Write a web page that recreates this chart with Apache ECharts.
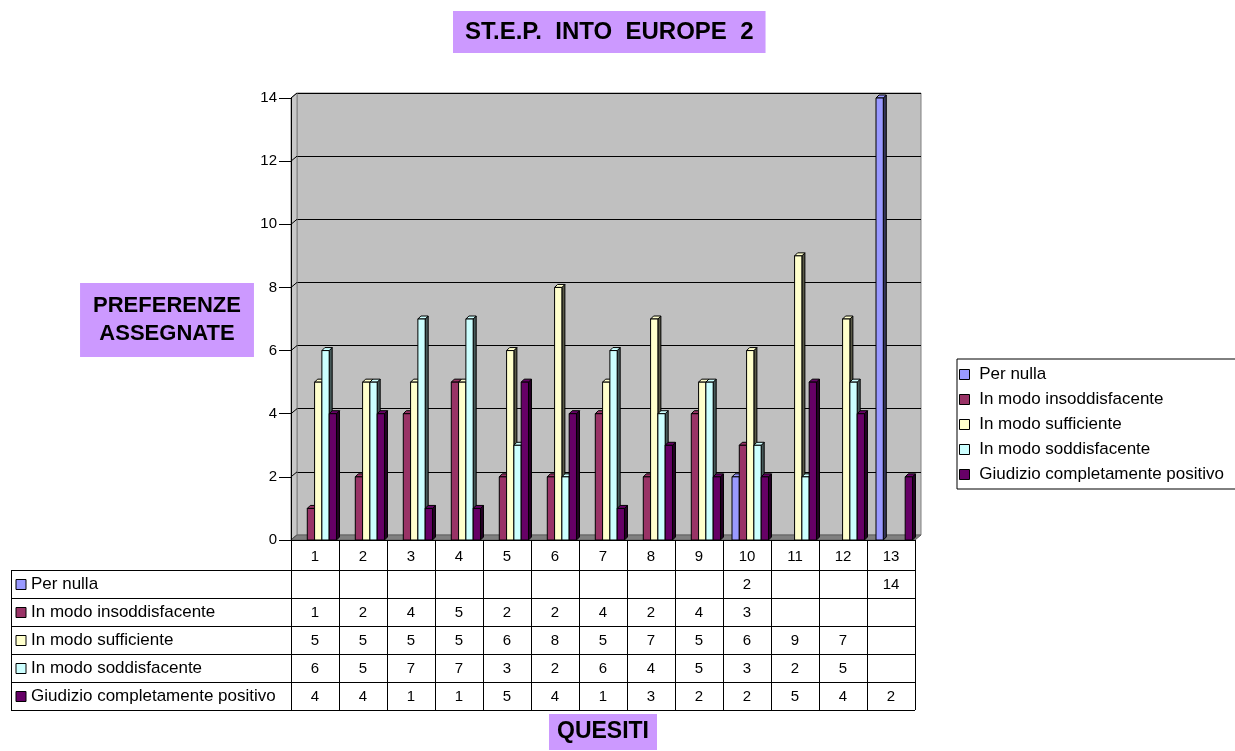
<!DOCTYPE html>
<html>
<head>
<meta charset="utf-8">
<title>ST.E.P. INTO EUROPE 2</title>
<script src="https://cdn.jsdelivr.net/npm/echarts/dist/echarts.min.js"></script>
<style>
  html, body { margin: 0; padding: 0; background: #fff; }
  #chart { width: 1235px; height: 751px; }
</style>
</head>
<body>
<div id="chart"></div>
<script>
(function() {

let quesiti = ['1', '2', '3', '4', '5', '6', '7', '8', '9', '10', '11', '12', '13']
let perNulla = [null, null, null, null, null, null, null, null, null, 2, null, null, 14]
let insoddisfacente = [1, 2, 4, 5, 2, 2, 4, 2, 4, 3, null, null, null]
let sufficiente = [5, 5, 5, 5, 6, 8, 5, 7, 5, 6, 9, 7, null]
let soddisfacente = [6, 5, 7, 7, 3, 2, 6, 4, 5, 3, 2, 5, null]
let positivo = [4, 4, 1, 1, 5, 4, 1, 3, 2, 2, 5, 4, 2]
let yTicks = [0, 2, 4, 6, 8, 10, 12, 14]

let serieNomi = ['Per nulla', 'In modo insoddisfacente', 'In modo sufficiente', 'In modo soddisfacente', 'Giudizio completamente positivo']
let serieValori = [perNulla, insoddisfacente, sufficiente, soddisfacente, positivo]
let colori = ['#9999FF', '#993366', '#FFFFCC', '#CCFFFF', '#660066']

const FONT = "'Liberation Sans', Arial, sans-serif"
const DEPTH = 3   // profondita 3D delle barre
const WALL = 6    // spostamento della parete di fondo

function shade(hex, f) {
    let n = parseInt(hex.slice(1), 16)
    let r = Math.round(((n >> 16) & 255) * f),
        g = Math.round(((n >> 8) & 255) * f),
        b = Math.round((n & 255) * f)
    return 'rgb(' + r + ',' + g + ',' + b + ')'
}

// barra "3D" stile Excel: fronte, lato e cima
function renderBar(s) {
    return function(params, api) {
        let ci = api.value(0), v = api.value(1)
        let w = api.size([1, 0])[0]
        let base = api.coord([ci, 0])
        let top = api.coord([ci, v])
        let bw = w * 0.152
        let x0 = base[0] - w / 2 + w * 0.1875 + s * bw
        let y0 = top[1], y1 = base[1]
        let c = colori[s]
        let line = { stroke: '#000', lineWidth: 1 }
        return {
            type: 'group',
            children: [
                {
                    type: 'polygon',
                    shape: { points: [[x0 + bw, y0], [x0 + bw + DEPTH, y0 - DEPTH], [x0 + bw + DEPTH, y1 - DEPTH], [x0 + bw, y1]] },
                    style: Object.assign({ fill: shade(c, 0.35) }, line)
                },
                {
                    type: 'polygon',
                    shape: { points: [[x0, y0], [x0 + DEPTH, y0 - DEPTH], [x0 + bw + DEPTH, y0 - DEPTH], [x0 + bw, y0]] },
                    style: Object.assign({ fill: c }, line)
                },
                {
                    type: 'rect',
                    shape: { x: x0, y: y0, width: bw, height: y1 - y0 },
                    style: Object.assign({ fill: c }, line)
                }
            ]
        }
    }
}

let series = serieNomi.map((nome, s) => {
    let data = []
    serieValori[s].forEach((v, i) => {
        if (v !== null) data.push([i, v])
    })
    return {
        name: nome,
        type: 'custom',
        xAxisIndex: 0,
        yAxisIndex: 0,
        itemStyle: { color: colori[s] },
        renderItem: renderBar(s),
        encode: { x: 0, y: 1 },
        data: data,
        z: 3
    }
})

let chart = echarts.init(document.getElementById('chart'))

let option = {
    animation: false,
    color: colori,
    textStyle: { fontFamily: FONT },
    title: {
        text: 'ST.E.P.  INTO  EUROPE  2',
        left: 453,
        top: 11,
        backgroundColor: '#CC99FF',
        padding: [9, 12, 9, 12],
        textStyle: { fontFamily: FONT, fontSize: 24, fontWeight: 'bold', color: '#000', lineHeight: 24 }
    },
    legend: {
        orient: 'vertical',
        left: 957,
        top: 359,
        padding: [7, 40, 6, 2],
        itemWidth: 10,
        itemHeight: 10,
        itemGap: 8,
        icon: 'rect',
        borderColor: '#000',
        borderWidth: 1,
        itemStyle: { borderColor: '#000', borderWidth: 1 },
        formatter: name => ' ' + name,
        textStyle: { fontFamily: FONT, fontSize: 17, color: '#000', lineHeight: 17, padding: 0 },
        data: serieNomi
    },
    grid: [
        // griglia frontale: barre e assi
        { left: 291, right: 320, top: 98, bottom: 211 },
        // parete di fondo grigia
        {
            left: 291 + WALL, right: 320 - WALL, top: 98 - 5, bottom: 211 + 5,
            show: true, backgroundColor: '#C0C0C0', borderColor: '#808080', borderWidth: 1, z: 0
        }
    ],
    xAxis: [
        {
            type: 'category', gridIndex: 0, data: quesiti,
            axisLine: { lineStyle: { color: '#000', width: 1 } },
            axisTick: { show: false },
            axisLabel: { fontFamily: FONT, fontSize: 15, color: '#000', margin: 9 },
            z: 4
        },
        { type: 'category', gridIndex: 1, data: quesiti, show: false }
    ],
    yAxis: [
        {
            type: 'value', gridIndex: 0, min: yTicks[0], max: yTicks[yTicks.length - 1], interval: 2,
            axisLine: { show: true, lineStyle: { color: '#000' } },
            axisTick: { show: true, length: 12, lineStyle: { color: '#000' } },
            axisLabel: { fontFamily: FONT, fontSize: 15, color: '#000', margin: 14 },
            splitLine: { show: false },
            z: 4
        },
        {
            type: 'value', gridIndex: 1, min: yTicks[0], max: yTicks[yTicks.length - 1], interval: 2,
            axisLine: { show: false }, axisTick: { show: false }, axisLabel: { show: false },
            splitLine: { show: true, lineStyle: { color: '#000', width: 1 } }
        }
    ],
    series: series
}

chart.setOption(option)

// elementi disegnati a mano: pavimento, parete laterale, tabella dati, etichette
function buildGraphic() {
    let g = []
    let colX = quesiti.map((q, i) => chart.convertToPixel({ xAxisIndex: 0 }, i))
    let catW = colX[1] - colX[0]
    let xl = colX[0] - catW / 2, xr = colX[colX.length - 1] + catW / 2
    let y0 = chart.convertToPixel({ yAxisIndex: 0 }, 0)
    let yTop = chart.convertToPixel({ yAxisIndex: 0 }, yTicks[yTicks.length - 1])

    // parete laterale sinistra
    g.push({
        type: 'polygon', z: 1,
        shape: { points: [[xl, yTop], [xl + WALL, yTop - 5], [xl + WALL, y0 - 5], [xl, y0]] },
        style: { fill: '#C8C8C8', stroke: '#808080', lineWidth: 1 }
    })
    yTicks.forEach(t => {
        let y = chart.convertToPixel({ yAxisIndex: 0 }, t)
        g.push({ type: 'line', z: 1, shape: { x1: xl, y1: y, x2: xl + WALL, y2: y - 5 }, style: { stroke: '#000', lineWidth: 1 } })
    })
    // pavimento
    g.push({
        type: 'polygon', z: 1,
        shape: { points: [[xl, y0], [xl + WALL, y0 - 5], [xr + WALL, y0 - 5], [xr, y0]] },
        style: { fill: '#808080', stroke: '#606060', lineWidth: 1 }
    })

    // tabella dati
    let rowH = 28
    let yRow0 = y0 + 30
    let xLab = 11
    let lc = '#000'
    let yEnd = yRow0 + rowH * serieNomi.length
    for (let k = 0; k <= quesiti.length; k++) {
        let x = Math.round(xl + k * catW) + 0.5
        g.push({ type: 'line', z: 5, shape: { x1: x, y1: y0, x2: x, y2: yEnd }, style: { stroke: lc, lineWidth: 1 } })
    }
    for (let r = 0; r <= serieNomi.length; r++) {
        let y = Math.round(yRow0 + r * rowH) + 0.5
        g.push({ type: 'line', z: 5, shape: { x1: xLab, y1: y, x2: xr, y2: y }, style: { stroke: lc, lineWidth: 1 } })
    }
    g.push({ type: 'line', z: 5, shape: { x1: xLab + 0.5, y1: yRow0, x2: xLab + 0.5, y2: yEnd }, style: { stroke: lc, lineWidth: 1 } })

    serieNomi.forEach((nome, r) => {
        let cy = yRow0 + r * rowH + rowH / 2
        g.push({
            type: 'rect', z: 5,
            shape: { x: 16, y: Math.round(cy) - 4.5, width: 10, height: 10 },
            style: { fill: colori[r], stroke: '#000', lineWidth: 1 }
        })
        g.push({
            type: 'text', z: 5, x: 31, y: cy,
            style: { text: nome, font: '17px ' + FONT, fill: '#000', verticalAlign: 'middle', align: 'left' }
        })
        serieValori[r].forEach((v, i) => {
            if (v === null) return
            g.push({
                type: 'text', z: 5, x: colX[i], y: cy + 1,
                style: { text: String(v), font: '15px ' + FONT, fill: '#000', verticalAlign: 'middle', align: 'center' }
            })
        })
    })

    // titoli degli assi
    g.push({
        type: 'text', z: 5, x: 167, y: 320,
        style: {
            text: 'PREFERENZE\nASSEGNATE', font: 'bold 22px ' + FONT, fill: '#000',
            align: 'center', verticalAlign: 'middle', lineHeight: 28,
            backgroundColor: '#CC99FF', padding: [9, 13, 9, 13]
        }
    })
    g.push({
        type: 'text', z: 5, x: 603, y: 732,
        style: {
            text: 'QUESITI', font: 'bold 23px ' + FONT, fill: '#000',
            align: 'center', verticalAlign: 'middle', lineHeight: 23,
            backgroundColor: '#CC99FF', padding: [7, 8, 6, 8]
        }
    })
    return g
}

chart.setOption({ graphic: { elements: buildGraphic() } })

})()
</script>
</body>
</html>
